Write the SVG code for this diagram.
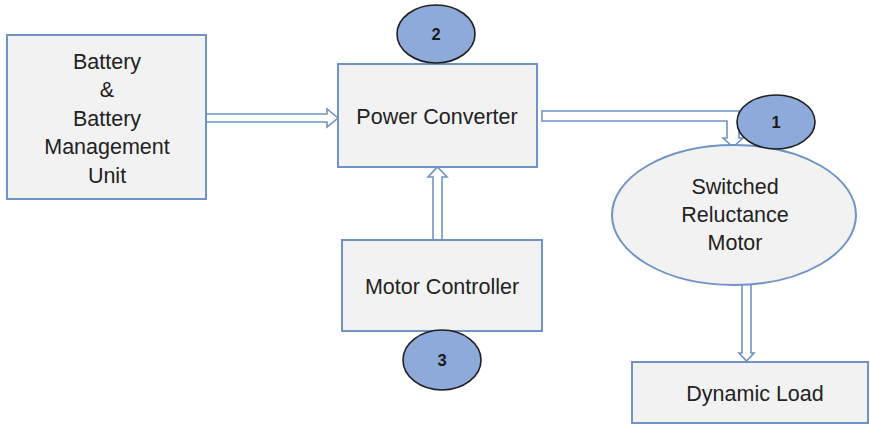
<svg xmlns="http://www.w3.org/2000/svg" width="870" height="425" viewBox="0 0 870 425">
  <style>
    .box { fill: #f2f2f2; stroke: #6f93c6; stroke-width: 2; }
    .badge { fill: #8eaadb; stroke: #1f1f1f; stroke-width: 1.6; }
    .arrow { fill: #ffffff; stroke: #6f93c6; stroke-width: 1.6; stroke-linejoin: miter; }
    .label { font-family: "Liberation Sans", Arial, sans-serif; font-size: 21.5px; fill: #222222; text-anchor: middle; }
    .num { font-family: "Liberation Sans", Arial, sans-serif; font-size: 16.5px; font-weight: bold; fill: #1a1a1a; text-anchor: middle; }
  </style>

  <rect width="870" height="425" fill="#ffffff"/>

  <!-- connectors: hollow block arrows -->
  <g id="connectors">
    <polygon class="arrow" points="206,114 327,114 327,109 338,118 327,127 327,122 206,122"/>
    <polygon class="arrow" points="433,240 433,177 428,177 437.5,167 447,177 442,177 442,240"/>
    <polygon class="arrow" points="542,111 739,111 739,138 743,138 733,147 723,138 727,138 727,121 542,121"/>
    <polygon class="arrow" points="742,284 742,353 739,353 746.5,361 754,353 751,353 751,284"/>
  </g>

  <g id="battery">
    <rect class="box" x="7" y="35" width="199" height="164"/>
    <text class="label" x="107" y="69">Battery</text>
    <text class="label" x="107" y="97">&amp;</text>
    <text class="label" x="107" y="126">Battery</text>
    <text class="label" x="107" y="154">Management</text>
    <text class="label" x="107" y="183">Unit</text>
  </g>

  <g id="power-converter">
    <rect class="box" x="338" y="64" width="199" height="103"/>
    <text class="label" x="437" y="124">Power Converter</text>
  </g>

  <g id="motor-controller">
    <rect class="box" x="342" y="240" width="200" height="91"/>
    <text class="label" x="442" y="294">Motor Controller</text>
  </g>

  <g id="srm">
    <ellipse class="box" cx="734" cy="215" rx="122" ry="70"/>
    <text class="label" x="735" y="194">Switched</text>
    <text class="label" x="735" y="222">Reluctance</text>
    <text class="label" x="735" y="250">Motor</text>
  </g>

  <g id="dynamic-load">
    <rect class="box" x="632" y="362" width="236" height="61"/>
    <text class="label" x="755" y="401">Dynamic Load</text>
  </g>

  <g id="badge-1">
    <ellipse class="badge" cx="776" cy="122" rx="39" ry="27"/>
    <text class="num" x="776" y="128">1</text>
  </g>

  <g id="badge-2">
    <ellipse class="badge" cx="436" cy="34" rx="39" ry="29"/>
    <text class="num" x="436" y="40">2</text>
  </g>

  <g id="badge-3">
    <ellipse class="badge" cx="442" cy="360" rx="39" ry="30"/>
    <text class="num" x="442" y="366">3</text>
  </g>
</svg>
